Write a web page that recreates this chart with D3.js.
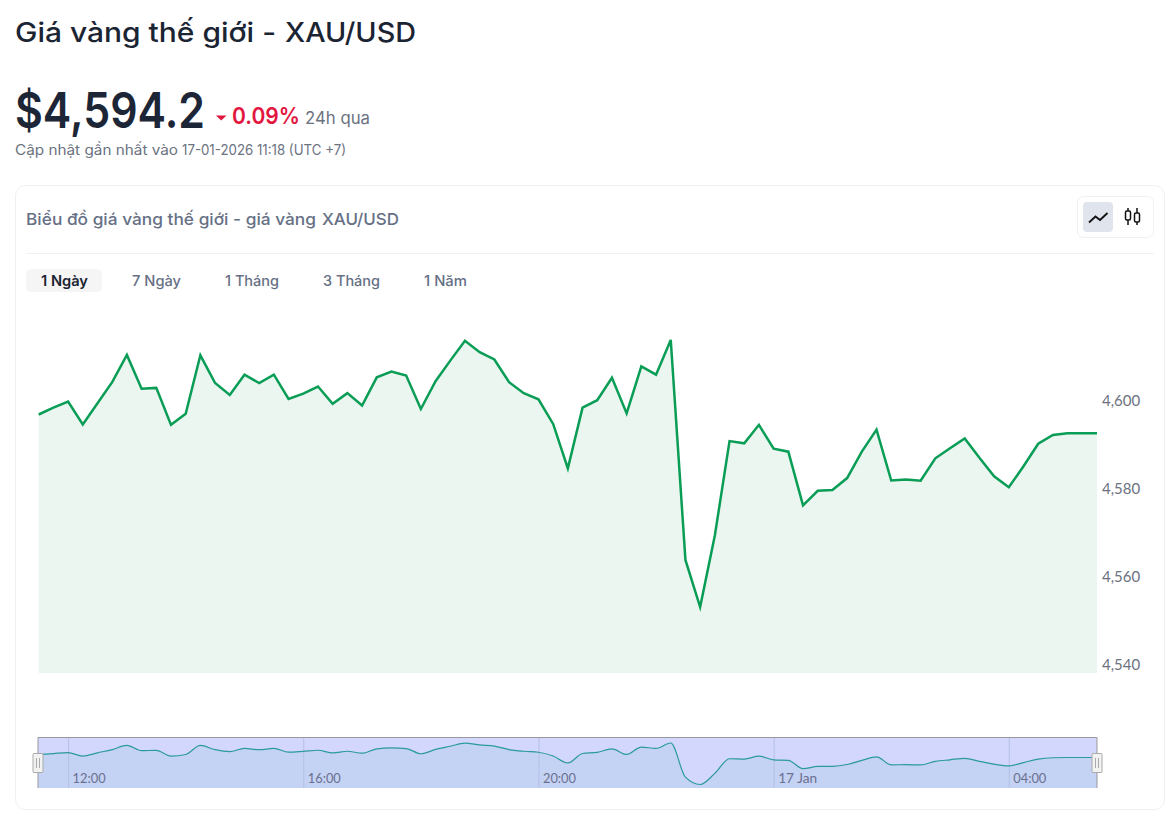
<!DOCTYPE html>
<html><head><meta charset="utf-8">
<script src="https://cdn.jsdelivr.net/npm/d3@7/dist/d3.min.js"></script>
<style>html,body{margin:0;padding:0;background:#fff}svg{display:block}text{font-family:Inter,"Noto Sans",sans-serif}</style>
</head><body><svg id="c" width="1167" height="813"></svg>
<script>
const prices=[4598.75,4600.3,4601.7,4596.5,4601.3,4606.1,4612.3,4604.6,4604.8,4596.4,4598.9,4612.2,4605.9,4603.2,4607.8,4605.9,4607.8,4602.3,4603.5,4605.1,4601.2,4603.6,4600.8,4607.2,4608.5,4607.6,4600.0,4606.3,4611.0,4615.5,4612.9,4611.25,4606.1,4603.6,4602.2,4596.6,4586.5,4600.3,4602.0,4607.1,4599.0,4609.7,4607.8,4615.7,4565.7,4555.0,4571.25,4592.7,4592.2,4596.4,4591.0,4590.3,4578.1,4581.4,4581.6,4584.3,4590.3,4595.3,4583.75,4584.0,4583.7,4588.8,4591.1,4593.3,4588.9,4584.7,4582.2,4587.0,4592.1,4594.1,4594.5,4594.5,4594.5];
const yTicks=[4540,4560,4580,4600];
const timeStart="2026-01-16T11:30:00Z", stepMinutes=15;
const timeTicks=[["2026-01-16T12:00:00Z","12:00"],["2026-01-16T16:00:00Z","16:00"],["2026-01-16T20:00:00Z","20:00"],["2026-01-17T00:00:00Z","17 Jan"],["2026-01-17T04:00:00Z","04:00"]];
const tabs=["1 Ngày","7 Ngày","1 Tháng","3 Tháng","1 Năm"];

const svg=d3.select("#c");
const t0=new Date(timeStart);
const times=prices.map((_,i)=>new Date(+t0+i*stepMinutes*60000));
const data=times.map((t,i)=>({t,v:prices[i]}));
const x=d3.scaleUtc().domain([times[0],times[times.length-1]]).range([38.7,1097]);
const y=d3.scaleLinear().domain([4540,4600]).range([673,409]);
const ym=d3.scaleLinear().domain([d3.min(prices),d3.max(prices)]).range([784.5,743]);

function txt(s,px,py,size,weight,fill,len){
  const e=svg.append("text").attr("x",px).attr("y",py).attr("font-size",size).attr("font-weight",weight).attr("fill",fill).text(s);
  if(len)e.attr("textLength",len).attr("lengthAdjust","spacingAndGlyphs");
  return e;
}
// header
txt("Giá vàng thế giới -",15,42,27,500,"#1b2433",261);
txt("XAU/USD",285,42,27,500,"#1b2433",131);
txt("$4,594.2",15,128,50,600,"#1c2636",190);
svg.append("path").attr("d","M216 115.5h10.5l-5.25 5z").attr("fill","#e0163c");
txt("0.09%",232,124,23,600,"#e2173f",68);
txt("24h qua",305,124,17,400,"#6b7280",65);
txt("Cập nhật gần nhất vào",15,155,14,400,"#6b7280",163);
txt("17-01-2026 11:18 (UTC +7)",182,155,14,400,"#6b7280",164);
// card
svg.append("rect").attr("x",15.5).attr("y",185.5).attr("width",1149).attr("height",624).attr("rx",10).attr("fill","#fff").attr("stroke","#eef0f3");
txt("Biểu đồ giá vàng thế giới - giá vàng",26,225,16.5,500,"#667085",290);
txt("XAU/USD",322,225,16.5,500,"#667085",77);
svg.append("line").attr("x1",26).attr("x2",1154).attr("y1",253.5).attr("y2",253.5).attr("stroke","#eef0f3");
// toggle
svg.append("rect").attr("x",1077.5).attr("y",196.5).attr("width",76).attr("height",41).attr("rx",6).attr("fill","#fff").attr("stroke","#f0f1f4");
svg.append("rect").attr("x",1083).attr("y",202).attr("width",30).attr("height",30).attr("rx",4).attr("fill","#e0e4ed");
svg.append("path").attr("d","M1089 222.5l6.5-6 4.5 3.5 7.5-7").attr("fill","none").attr("stroke","#111").attr("stroke-width",1.8);
[[1128,208,225,211,220],[1137,208,225,213,222]].forEach(([cx,a,b,c,d])=>{
  svg.append("path").attr("d",`M${cx} ${a}V${c}M${cx} ${d}V${b}`).attr("stroke","#111").attr("stroke-width",1.5);
  svg.append("rect").attr("x",cx-2.5).attr("y",c).attr("width",5).attr("height",d-c).attr("rx",1.5).attr("fill","none").attr("stroke","#111").attr("stroke-width",1.5);
});
// tabs
svg.append("rect").attr("x",26).attr("y",269).attr("width",76).attr("height",23).attr("rx",5).attr("fill","#f5f5f5");
const tabX=[41,132,225,323,424], tabW=[47,49,54,57,43];
tabs.forEach((s,i)=>txt(s,tabX[i],286,14.5,i?500:600,i?"#667085":"#1b2433",tabW[i]));
// area + line
svg.append("path").datum(data).attr("fill","#ebf6f1").attr("d",d3.area().x(d=>x(d.t)).y0(673).y1(d=>y(d.v)));
svg.append("path").datum(data).attr("fill","none").attr("stroke","#0a9d56").attr("stroke-width",2.5).attr("stroke-linejoin","miter").attr("d",d3.line().x(d=>x(d.t)).y(d=>y(d.v)));
// y axis
const ya=svg.append("g").attr("transform","translate(1102,0)").call(d3.axisRight(y).tickValues(yTicks).tickSize(0).tickPadding(0).tickFormat(d3.format(",")));
ya.select(".domain").remove();
ya.selectAll("text").attr("dy",-4).attr("font-size",15).attr("fill","#6b7280").style("font-family","Lato,Inter,sans-serif");
// minimap
const mapTop=737.5,mapBot=788;
svg.append("rect").attr("x",38).attr("y",mapTop).attr("width",1059).attr("height",mapBot-mapTop).attr("fill","#d3d7fd");
svg.append("path").datum(data).attr("fill","#c4d2f3").attr("d",d3.area().x(d=>x(d.t)).y0(mapBot).y1(d=>ym(d.v)).curve(d3.curveMonotoneX));
const xa=svg.append("g").attr("transform",`translate(0,${mapBot})`).call(d3.axisBottom(x).tickValues(timeTicks.map(d=>new Date(d[0]))).tickSize(-(mapBot-mapTop)).tickFormat((d,i)=>timeTicks[i][1]));
xa.select(".domain").remove();
xa.selectAll("line").attr("stroke","#b4c0e6").attr("stroke-width",1);
xa.selectAll("text").attr("text-anchor","start").attr("x",4).attr("y",-5).attr("dy",0).attr("font-size",14).attr("fill","#6b7090").style("font-family","Lato,Inter,sans-serif")
  .attr("textLength",(d,i)=>timeTicks[i][1].length>5?39:33).attr("lengthAdjust","spacingAndGlyphs");
svg.append("path").datum(data).attr("fill","none").attr("stroke","#2a9a9c").attr("stroke-width",1.2).attr("d",d3.line().x(d=>x(d.t)).y(d=>ym(d.v)).curve(d3.curveMonotoneX));
svg.append("path").attr("d",`M38 ${mapBot}V${mapTop}H1097V${mapBot}`).attr("fill","none").attr("stroke","#999");
[38,1097].forEach(h=>{
  svg.append("rect").attr("x",h-5).attr("y",753.5).attr("width",10).attr("height",19).attr("rx",1).attr("fill","#f2f2f2").attr("stroke","#aaa");
  svg.append("path").attr("d",`M${h-1.5} 758V768M${h+1.5} 758V768`).attr("stroke","#aaa");
});
</script></body></html>
